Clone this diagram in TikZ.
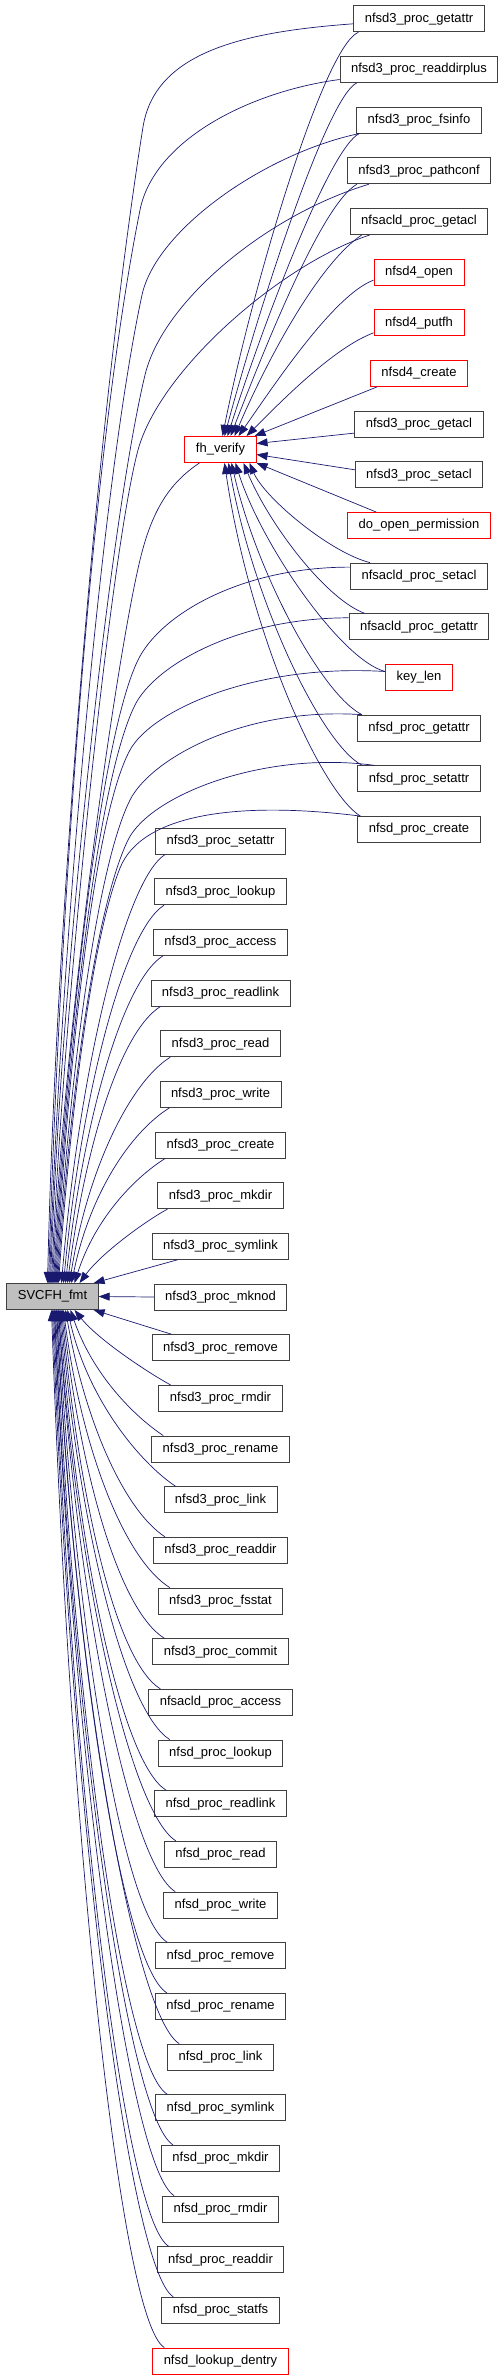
\documentclass[tikz,border=0pt]{standalone}
\usepackage{fontspec}
\setmainfont{Liberation Sans}
\usetikzlibrary{arrows.meta}
\definecolor{edgeblue}{HTML}{191970}
\definecolor{nodeborder}{HTML}{404040}
\definecolor{nodered}{HTML}{FF0000}
\definecolor{rootgray}{HTML}{BFBFBF}

\begin{document}
\begin{tikzpicture}[
    x=1pt, y=1pt,
    fn/.style={rectangle, draw=nodeborder, line width=0.9pt, minimum height=26pt, inner xsep=11pt, inner ysep=0pt, font=\fontsize{13}{15}\selectfont},
    fnred/.style={fn, draw=nodered},
    root/.style={fn, fill=rootgray},
    calls/.style={draw=edgeblue, line width=0.7pt, -{Triangle[length=11pt,width=8pt]}}
]
\useasboundingbox (0,0) rectangle (503,-2380);

% Root and fh_verify
\node[root] (svcfh) at (52.5,-1296.5) {SVCFH\_fmt};
\node[fnred] (fhverify) at (220.5,-449.5) {fh\_verify};

% Right column (callers of fh_verify)
\node[fn] (n3getattr) at (419,-18.8) {nfsd3\_proc\_getattr};
\node[fn] (n3readdirplus) at (419,-69.5) {nfsd3\_proc\_readdirplus};
\node[fn] (n3fsinfo) at (419,-120.1) {nfsd3\_proc\_fsinfo};
\node[fn] (n3pathconf) at (419,-170.8) {nfsd3\_proc\_pathconf};
\node[fn] (aclgetacl) at (419,-221.5) {nfsacld\_proc\_getacl};
\node[fnred] (v4open) at (419,-272.1) {nfsd4\_open};
\node[fnred] (v4putfh) at (419,-322.8) {nfsd4\_putfh};
\node[fnred] (v4create) at (419,-373.5) {nfsd4\_create};
\node[fn] (n3getacl) at (419,-424.1) {nfsd3\_proc\_getacl};
\node[fn] (n3setacl) at (419,-474.8) {nfsd3\_proc\_setacl};
\node[fnred] (openperm) at (419,-525.5) {do\_open\_permission};
\node[fn] (aclsetacl) at (419,-576.1) {nfsacld\_proc\_setacl};
\node[fn] (aclgetattr) at (419,-626.8) {nfsacld\_proc\_getattr};
\node[fnred] (keylen) at (419,-677.5) {key\_len};
\node[fn] (n2getattr) at (419,-728.1) {nfsd\_proc\_getattr};
\node[fn] (n2setattr) at (419,-778.8) {nfsd\_proc\_setattr};
\node[fn] (n2create) at (419,-829.5) {nfsd\_proc\_create};

% Middle column (direct callers of SVCFH_fmt)
\node[fn] (n3setattr) at (220.5,-841) {nfsd3\_proc\_setattr};
\node[fn] (n3lookup) at (220.5,-891.7) {nfsd3\_proc\_lookup};
\node[fn] (n3access) at (220.5,-942.3) {nfsd3\_proc\_access};
\node[fn] (n3readlink) at (220.5,-993) {nfsd3\_proc\_readlink};
\node[fn] (n3read) at (220.5,-1043.7) {nfsd3\_proc\_read};
\node[fn] (n3write) at (220.5,-1094.3) {nfsd3\_proc\_write};
\node[fn] (n3create) at (220.5,-1145) {nfsd3\_proc\_create};
\node[fn] (n3mkdir) at (220.5,-1195.7) {nfsd3\_proc\_mkdir};
\node[fn] (n3symlink) at (220.5,-1246.3) {nfsd3\_proc\_symlink};
\node[fn] (n3mknod) at (220.5,-1297) {nfsd3\_proc\_mknod};
\node[fn] (n3remove) at (220.5,-1347.7) {nfsd3\_proc\_remove};
\node[fn] (n3rmdir) at (220.5,-1398.3) {nfsd3\_proc\_rmdir};
\node[fn] (n3rename) at (220.5,-1449) {nfsd3\_proc\_rename};
\node[fn] (n3link) at (220.5,-1499.7) {nfsd3\_proc\_link};
\node[fn] (n3readdir) at (220.5,-1550.3) {nfsd3\_proc\_readdir};
\node[fn] (n3fsstat) at (220.5,-1601) {nfsd3\_proc\_fsstat};
\node[fn] (n3commit) at (220.5,-1651.7) {nfsd3\_proc\_commit};
\node[fn] (aclaccess) at (220.5,-1702.3) {nfsacld\_proc\_access};
\node[fn] (n2lookup) at (220.5,-1753) {nfsd\_proc\_lookup};
\node[fn] (n2readlink) at (220.5,-1803.7) {nfsd\_proc\_readlink};
\node[fn] (n2read) at (220.5,-1854.3) {nfsd\_proc\_read};
\node[fn] (n2write) at (220.5,-1905) {nfsd\_proc\_write};
\node[fn] (n2remove) at (220.5,-1955.7) {nfsd\_proc\_remove};
\node[fn] (n2rename) at (220.5,-2006.3) {nfsd\_proc\_rename};
\node[fn] (n2link) at (220.5,-2057) {nfsd\_proc\_link};
\node[fn] (n2symlink) at (220.5,-2107.7) {nfsd\_proc\_symlink};
\node[fn] (n2mkdir) at (220.5,-2158.3) {nfsd\_proc\_mkdir};
\node[fn] (n2rmdir) at (220.5,-2209) {nfsd\_proc\_rmdir};
\node[fn] (n2readdir) at (220.5,-2259.7) {nfsd\_proc\_readdir};
\node[fn] (n2statfs) at (220.5,-2310.3) {nfsd\_proc\_statfs};
\node[fnred] (lookupdentry) at (220.5,-2361) {nfsd\_lookup\_dentry};

% Calls into fh_verify
\draw[calls] ([xshift=5pt]n3getattr.south west) .. controls +(-35,-15) and +(30,150) .. ([xshift=2pt]fhverify.north);
\draw[calls] ([xshift=17pt]n3readdirplus.south west) .. controls +(-30,-15) and +(35,130) .. ([xshift=4pt]fhverify.north);
\draw[calls] ([xshift=3pt]n3fsinfo.south west) .. controls +(-30,-15) and +(35,110) .. ([xshift=7pt]fhverify.north);
\draw[calls] ([xshift=10pt]n3pathconf.south west) .. controls +(-35,-20) and +(35,90) .. ([xshift=10pt]fhverify.north);
\draw[calls] ([xshift=12pt]aclgetacl.south west) .. controls +(-45,-30) and +(30,70) .. ([xshift=14pt]fhverify.north);
\draw[calls] ([yshift=-8pt]v4open.west) .. controls +(-40,-15) and +(35,50) .. ([xshift=18pt]fhverify.north);
\draw[calls] ([yshift=-10pt]v4putfh.west) .. controls +(-40,-15) and +(35,35) .. ([xshift=26pt]fhverify.north);
\draw[calls] ([xshift=7pt]v4create.south west) -- ([xshift=-2pt]fhverify.north east);
\draw[calls] ([yshift=-9pt]n3getacl.west) -- ([yshift=6pt]fhverify.east);
\draw[calls] ([yshift=5pt]n3setacl.west) -- ([yshift=-5pt]fhverify.east);
\draw[calls] ([xshift=29pt]openperm.north west) -- (fhverify.south east);
\draw[calls] ([xshift=20pt]aclsetacl.north west) .. controls +(-40,10) and +(15,-35) .. ([xshift=-7pt]fhverify.south east);
\draw[calls] ([xshift=16pt]aclgetattr.north west) .. controls +(-40,15) and +(25,-60) .. ([xshift=-13pt]fhverify.south east);
\draw[calls] ([yshift=6pt]keylen.west) .. controls +(-45,12) and +(25,-80) .. ([xshift=15pt]fhverify.south);
\draw[calls] ([xshift=5pt]n2getattr.north west) .. controls +(-40,20) and +(25,-110) .. ([xshift=11pt]fhverify.south);
\draw[calls] ([xshift=5pt]n2setattr.north west) .. controls +(-40,20) and +(25,-140) .. ([xshift=8pt]fhverify.south);
\draw[calls] ([xshift=3pt]n2create.north west) .. controls +(-40,25) and +(25,-170) .. ([xshift=4pt]fhverify.south);

% Long calls from the right column into SVCFH_fmt
\draw[calls] ([yshift=-5pt]n3getattr.west) .. controls +(-110,-8) and +(12,75) .. (143,-127) .. controls +(-47,-296) and +(8,350) .. ([xshift=-5pt]svcfh.north);
\draw[calls] ([yshift=-10pt]n3readdirplus.west) .. controls +(-90,-12) and +(14,70) .. (140,-210) .. controls +(-52,-260) and +(10,330) .. ([xshift=-4pt]svcfh.north);
\draw[calls] ([xshift=3pt]n3fsinfo.south west) .. controls +(-95,-20) and +(14,65) .. (142,-295) .. controls +(-43,-200) and +(10,300) .. ([xshift=-3pt]svcfh.north);
\draw[calls] ([xshift=22pt]n3pathconf.south west) .. controls +(-100,-30) and +(18,75) .. (145,-375) .. controls +(-36,-150) and +(10,300) .. ([xshift=-2pt]svcfh.north);
\draw[calls] ([xshift=20pt]aclgetacl.south west) .. controls +(-90,-30) and +(22,80) .. (138,-450) .. controls +(-27,-100) and +(12,280) .. ([xshift=-1pt]svcfh.north);
\draw[calls] ([xshift=15pt]fhverify.south west) .. controls +(-30,-20) and +(12,50) .. (140,-560) .. controls +(-24,-100) and +(12,260) .. (svcfh.north);
\draw[calls] ([yshift=9pt]aclsetacl.west) .. controls +(-110,0) and +(22,45) .. (138,-660) .. controls +(-40,-82) and +(12,220) .. ([xshift=1pt]svcfh.north);
\draw[calls] ([yshift=9pt]aclgetattr.west) .. controls +(-110,0) and +(20,40) .. (135,-705) .. controls +(-40,-80) and +(12,210) .. ([xshift=2pt]svcfh.north);
\draw[calls] ([yshift=6pt]keylen.west) .. controls +(-130,8) and +(22,40) .. (130,-750) .. controls +(-38,-70) and +(12,200) .. ([xshift=3pt]svcfh.north);
\draw[calls] ([xshift=5pt]n2getattr.north west) .. controls +(-120,8) and +(20,40) .. (130,-800) .. controls +(-35,-70) and +(12,190) .. ([xshift=4pt]svcfh.north);
\draw[calls] ([xshift=17pt]n2setattr.north west) .. controls +(-110,15) and +(22,45) .. (128,-840) .. controls +(-33,-68) and +(12,180) .. ([xshift=5pt]svcfh.north);
\draw[calls] ([xshift=3pt]n2create.north west) .. controls +(-120,15) and +(22,55) .. (120,-868) .. controls +(-28,-70) and +(12,170) .. ([xshift=6pt]svcfh.north);

% Middle column above SVCFH_fmt
\draw[calls] ([xshift=10pt]n3setattr.south west) .. controls +(-40,-25) and +(18,215) .. ([xshift=9pt]svcfh.north);
\draw[calls] ([xshift=10pt]n3lookup.south west) .. controls +(-40,-25) and +(18,190) .. ([xshift=11pt]svcfh.north);
\draw[calls] ([xshift=10pt]n3access.south west) .. controls +(-40,-25) and +(18,164) .. ([xshift=13pt]svcfh.north);
\draw[calls] ([xshift=10pt]n3readlink.south west) .. controls +(-40,-25) and +(18,139) .. ([xshift=15pt]svcfh.north);
\draw[calls] ([xshift=10pt]n3read.south west) .. controls +(-40,-25) and +(18,114) .. ([xshift=17pt]svcfh.north);
\draw[calls] ([xshift=10pt]n3write.south west) .. controls +(-40,-25) and +(18,88) .. ([xshift=19pt]svcfh.north);
\draw[calls] ([xshift=10pt]n3create.south west) .. controls +(-32,-20) and +(20,63) .. ([xshift=22pt]svcfh.north);
\draw[calls] ([xshift=10pt]n3mkdir.south west) .. controls +(-22,-12) and +(22,30) .. ([xshift=27pt]svcfh.north);
\draw[calls] ([xshift=26pt]n3symlink.south west) -- ([xshift=-5pt]svcfh.north east);
\draw[calls] (n3mknod.west) -- (svcfh.east);
\draw[calls] ([xshift=20pt]n3remove.north west) -- ([xshift=-5pt]svcfh.south east);

% Middle column below SVCFH_fmt
\draw[calls] ([xshift=12pt]n3rmdir.north west) .. controls +(-22,12) and +(24,-30) .. ([xshift=22pt]svcfh.south);
\draw[calls] ([xshift=12pt]n3rename.north west) .. controls +(-30,20) and +(22,-64) .. ([xshift=18pt]svcfh.south);
\draw[calls] ([xshift=12pt]n3link.north west) .. controls +(-36,24) and +(20,-89) .. ([xshift=15pt]svcfh.south);
\draw[calls] ([xshift=12pt]n3readdir.north west) .. controls +(-40,26) and +(20,-114) .. ([xshift=13pt]svcfh.south);
\draw[calls] ([xshift=12pt]n3fsstat.north west) .. controls +(-45,28) and +(18,-140) .. ([xshift=11pt]svcfh.south);
\draw[calls] ([xshift=12pt]n3commit.north west) .. controls +(-45,28) and +(18,-165) .. ([xshift=10pt]svcfh.south);
\draw[calls] ([xshift=12pt]aclaccess.north west) .. controls +(-45,28) and +(18,-190) .. ([xshift=9pt]svcfh.south);
\draw[calls] ([xshift=12pt]n2lookup.north west) .. controls +(-45,28) and +(18,-216) .. ([xshift=8pt]svcfh.south);
\draw[calls] ([xshift=12pt]n2readlink.north west) .. controls +(-45,28) and +(18,-241) .. ([xshift=7pt]svcfh.south);
\draw[calls] ([xshift=12pt]n2read.north west) .. controls +(-45,28) and +(18,-266) .. ([xshift=6pt]svcfh.south);
\draw[calls] ([xshift=12pt]n2write.north west) .. controls +(-45,28) and +(18,-292) .. ([xshift=6pt]svcfh.south);
\draw[calls] ([xshift=12pt]n2remove.north west) .. controls +(-45,28) and +(18,-317) .. ([xshift=5pt]svcfh.south);
\draw[calls] ([xshift=12pt]n2rename.north west) .. controls +(-45,28) and +(18,-342) .. ([xshift=4pt]svcfh.south);
\draw[calls] ([xshift=12pt]n2link.north west) .. controls +(-45,28) and +(18,-368) .. ([xshift=4pt]svcfh.south);
\draw[calls] ([xshift=12pt]n2symlink.north west) .. controls +(-45,28) and +(18,-393) .. ([xshift=3pt]svcfh.south);
\draw[calls] ([xshift=12pt]n2mkdir.north west) .. controls +(-45,28) and +(18,-418) .. ([xshift=2pt]svcfh.south);
\draw[calls] ([xshift=12pt]n2rmdir.north west) .. controls +(-45,28) and +(18,-444) .. ([xshift=2pt]svcfh.south);
\draw[calls] ([xshift=12pt]n2readdir.north west) .. controls +(-45,28) and +(18,-469) .. ([xshift=1pt]svcfh.south);
\draw[calls] ([xshift=12pt]n2statfs.north west) .. controls +(-45,28) and +(18,-494) .. (svcfh.south);
\draw[calls] ([xshift=12pt]lookupdentry.north west) .. controls +(-45,28) and +(18,-520) .. ([xshift=-1pt]svcfh.south);

\end{tikzpicture}
\end{document}
